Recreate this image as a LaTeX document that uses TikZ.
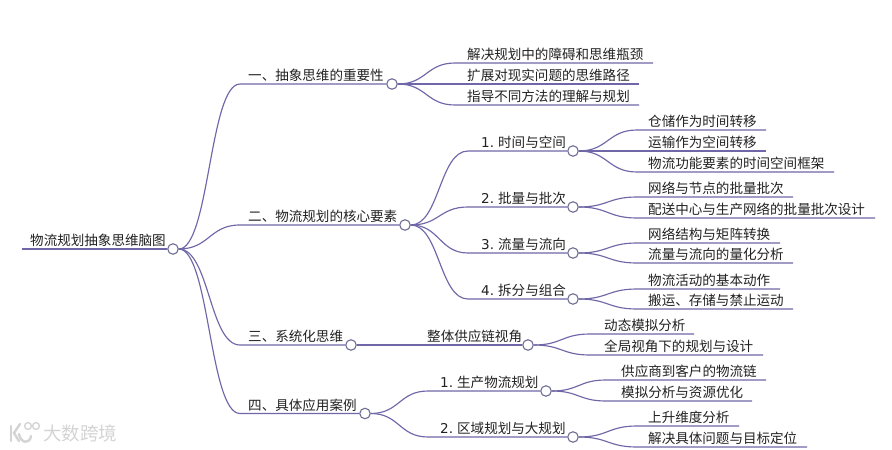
\documentclass[tikz,border=0pt]{standalone}
\usepackage{fontspec}
\setmainfont{Noto Sans CJK SC}
\newfontfamily\latinf{DejaVu Sans}
\usetikzlibrary{calc}
\definecolor{linkc}{HTML}{6F67A8}
\definecolor{ringc}{HTML}{6C6C94}
\definecolor{textc}{HTML}{222222}
\definecolor{markc}{HTML}{D4D4D4}
\tikzset{
  x=1pt,y=-1pt,
  link/.style={draw=linkc,line width=1.15pt},
  rootlink/.style={draw=linkc,line width=2pt},
  label/.style={anchor=base west,inner sep=0pt,text=textc,font=\fontsize{13.55pt}{15pt}\selectfont},
  ring/.style={circle,draw=ringc,fill=white,line width=1.1pt,minimum size=10.5pt,inner sep=0pt},
  markmark/.style={draw=markc,line width=2.4pt,line cap=round},
  marktext/.style={anchor=base west,inner sep=0pt,text=markc,font=\fontsize{18.5pt}{20pt}\selectfont}
}
% curve with horizontal tangents
\newcommand\curveto[2]{.. controls ($(#1)!0.5!(#2 |- #1)$) and ($(#2)!0.5!(#1 |- #2)$) .. (#2)}
% #1 name, #2 parent ring, #3 x of curve end, #4 x of text, #5 x of line end, #6 y, #7 text
\newcommand\leafrow[7]{%
  \coordinate (#1s) at (#3,#6);
  \coordinate (#1e) at (#5,#6);
  \node[label] (#1) at (#4,#6-3.5) {#7};
  \draw[link] (#2.east) \curveto{#2.east}{#1s} -- (#1e);
}
\newcommand\branchrow[7]{%
  \coordinate (#1s) at (#3,#6);
  \node[ring] (#1r) at (#5,#6) {};
  \node[label] (#1) at (#4,#6-3.5) {#7};
  \draw[link] (#2.east) \curveto{#2.east}{#1s} -- (#1r.west);
}
\begin{document}
\begin{tikzpicture}
\useasboundingbox (0,0) rectangle (892,450);
\fill[white] (0,0) rectangle (892,450);
% root
\coordinate (roots) at (22,249);
\node[ring] (rootr) at (173,249) {};
\node[label] (root) at (30,249-3.5) {物流规划抽象思维脑图};
\draw[rootlink] (roots) -- (rootr.west);
% level one
\branchrow{a}{rootr}{240}{248}{392}{84}{一、抽象思维的重要性}
\branchrow{b}{rootr}{240}{248}{405}{225}{二、物流规划的核心要素}
\branchrow{c}{rootr}{240}{248}{351}{345}{三、系统化思维}
\branchrow{d}{rootr}{240}{248}{365}{413.5}{四、具体应用案例}
% branch a
\leafrow{aa}{ar}{455}{467}{653}{63}{解决规划中的障碍和思维瓶颈}
\leafrow{ab}{ar}{455}{467}{639}{84}{扩展对现实问题的思维路径}
\leafrow{ac}{ar}{455}{467}{639}{105}{指导不同方法的理解与规划}
% branch b
\branchrow{ba}{br}{468}{481}{573}{151}{{\latinf 1.} 时间与空间}
\branchrow{bb}{br}{468}{481}{573}{207}{{\latinf 2.} 批量与批次}
\branchrow{bc}{br}{468}{481}{573}{253}{{\latinf 3.} 流量与流向}
\branchrow{bd}{br}{468}{481}{573}{299}{{\latinf 4.} 拆分与组合}
\leafrow{baa}{bar}{637}{648}{766}{130}{仓储作为时间转移}
\leafrow{bab}{bar}{637}{648}{766}{151}{运输作为空间转移}
\leafrow{bac}{bar}{637}{648}{834}{172}{物流功能要素的时间空间框架}
\leafrow{bba}{bbr}{637}{648}{793}{197}{网络与节点的批量批次}
\leafrow{bbb}{bbr}{637}{648}{875}{218}{配送中心与生产网络的批量批次设计}
\leafrow{bca}{bcr}{637}{648}{780}{243}{网络结构与矩阵转换}
\leafrow{bcb}{bcr}{637}{648}{793}{263}{流量与流向的量化分析}
\leafrow{bda}{bdr}{637}{648}{780}{289}{物流活动的基本动作}
\leafrow{bdb}{bdr}{637}{648}{793}{309}{搬运、存储与禁止运动}
% branch c
\branchrow{ca}{cr}{415}{427}{528}{345}{整体供应链视角}
\leafrow{caa}{car}{590}{604}{694}{334}{动态模拟分析}
\leafrow{cab}{car}{590}{604}{763}{355}{全局视角下的规划与设计}
% branch d
\branchrow{da}{dr}{428}{440}{546}{391}{{\latinf 1.} 生产物流规划}
\branchrow{db}{dr}{428}{440}{573}{437}{{\latinf 2.} 区域规划与大规划}
\leafrow{daa}{dar}{606}{621}{766}{380}{供应商到客户的物流链}
\leafrow{dab}{dar}{606}{621}{752}{401}{模拟分析与资源优化}
\leafrow{dba}{dbr}{637}{648}{739}{426}{上升维度分析}
\leafrow{dbb}{dbr}{637}{648}{807}{447}{解决具体问题与目标定位}
% watermark
\draw[markmark] (11,426) -- (11,441);
\draw[markmark] (20,424) -- (14,433) -- (19,441);
\draw[markmark] (19,434) .. controls (21,444) and (30,444) .. (31,436);
\draw[draw=markc,line width=1.4pt] (28,426) circle (3.4);
\draw[draw=markc,line width=1.4pt] (36,426) circle (3.4);
\node[marktext] (mark) at (43,440) {大数跨境};
\end{tikzpicture}
\end{document}
